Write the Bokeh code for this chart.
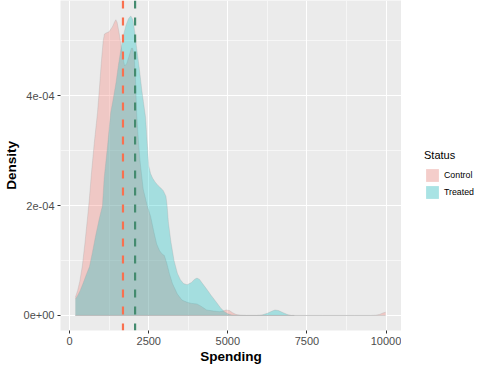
from bokeh.plotting import figure
from bokeh.layouts import row
from bokeh.models import Range1d, FixedTicker, Legend, LegendItem, ColumnDataSource, Span
from bokeh.embed import file_html
from bokeh.resources import INLINE

# ---- data ----
control_x = [180, 250, 320, 400, 480, 560, 620, 690, 780, 880, 950, 1000, 1060, 1100, 1155, 1244,
             1350, 1420, 1460, 1500, 1560, 1605, 1680, 1738, 1800, 1880, 1950, 1994, 2040, 2080,
             2117, 2170, 2222, 2324, 2450, 2560, 2650, 2750, 2840, 2920, 2994, 3070, 3148, 3250,
             3404, 3550, 3713, 3850, 4022, 4150, 4330, 4550, 4741, 4850, 4948, 5050, 5150, 5256,
             5400, 5600, 6000, 7000, 8000, 9000, 9500, 9680, 9800, 9900, 9990]
control_density = [0.33e-4, 0.45e-4, 0.62e-4, 0.9e-4, 1.3e-4, 1.75e-4, 2.1e-4, 2.6e-4, 3.15e-4,
                   3.69e-4, 4.2e-4, 4.6e-4, 5.0e-4, 5.12e-4, 5.14e-4, 5.16e-4, 5.25e-4, 5.34e-4,
                   5.38e-4, 5.33e-4, 5.15e-4, 4.98e-4, 4.7e-4, 4.54e-4, 4.58e-4, 4.72e-4, 4.86e-4,
                   4.86e-4, 4.7e-4, 4.3e-4, 3.69e-4, 3.2e-4, 2.82e-4, 2.3e-4, 2.0e-4, 1.8e-4,
                   1.55e-4, 1.3e-4, 1.18e-4, 1.12e-4, 1.09e-4, 0.95e-4, 0.77e-4, 0.58e-4, 0.39e-4,
                   0.28e-4, 0.24e-4, 0.22e-4, 0.21e-4, 0.17e-4, 0.1e-4, 0.08e-4, 0.07e-4, 0.08e-4,
                   0.1e-4, 0.09e-4, 0.05e-4, 0.02e-4, 0.005e-4, 0.0, 0.0, 0.0, 0.0, 0.0, 0.0,
                   0.005e-4, 0.02e-4, 0.045e-4, 0.06e-4]

treated_x = [180, 250, 330, 420, 530, 627, 720, 820, 935, 1037, 1090, 1200, 1296, 1380, 1460,
             1540, 1620, 1700, 1780, 1860, 1932, 2000, 2060, 2120, 2200, 2280, 2340, 2400, 2450,
             2500, 2560, 2620, 2700, 2800, 2880, 2960, 3043, 3080, 3120, 3198, 3300, 3404, 3500,
             3600, 3713, 3850, 3950, 4022, 4100, 4200, 4330, 4480, 4639, 4780, 4895, 5000, 5120,
             5300, 5600, 5900, 6080, 6250, 6400, 6490, 6600, 6750, 6900, 7006, 7100]
treated_density = [0.3e-4, 0.36e-4, 0.45e-4, 0.58e-4, 0.75e-4, 0.89e-4, 1.15e-4, 1.45e-4, 1.76e-4,
                   2.0e-4, 2.5e-4, 3.1e-4, 3.69e-4, 3.95e-4, 4.22e-4, 4.55e-4, 4.85e-4, 5.1e-4,
                   5.28e-4, 5.4e-4, 5.45e-4, 5.38e-4, 5.15e-4, 4.85e-4, 4.5e-4, 4.1e-4, 3.85e-4,
                   3.6e-4, 3.15e-4, 2.72e-4, 2.58e-4, 2.5e-4, 2.43e-4, 2.36e-4, 2.32e-4, 2.27e-4,
                   2.17e-4, 2.0e-4, 1.7e-4, 1.35e-4, 1.0e-4, 0.77e-4, 0.65e-4, 0.58e-4, 0.56e-4,
                   0.6e-4, 0.66e-4, 0.68e-4, 0.66e-4, 0.58e-4, 0.48e-4, 0.36e-4, 0.24e-4, 0.13e-4,
                   0.07e-4, 0.03e-4, 0.01e-4, 0.0, 0.0, 0.0, 0.01e-4, 0.04e-4, 0.08e-4, 0.1e-4,
                   0.09e-4, 0.05e-4, 0.015e-4, 0.0, 0.0]

groups = ["Control", "Treated"]
group_means = [1685, 2068]

x_ticks = [0, 2500, 5000, 7500, 10000]
x_minor = [1250, 3750, 6250, 8750]
y_ticks = [0.0, 0.0002, 0.0004]
y_minor = [0.0001, 0.0003, 0.0005]
y_tick_labels = ["0e+00", "2e-04", "4e-04"]

# ---- styling ----
FONT = "Liberation Sans"
fill_colors = ["#F8766D", "#00BFC4"]
key_colors = ["#F4CDCA", "#A9E3E4"]
mean_colors = ["#F9704F", "#448B6F"]

y0, y1 = -2.73e-5, 5.73e-4
p = figure(width=401, height=366, output_backend="svg", toolbar_location=None,
           x_range=Range1d(-290, 10490), y_range=Range1d(y0, y1),
           min_border_left=51, min_border_right=0, min_border_top=0, min_border_bottom=29)
p.background_fill_color = "#EBEBEB"
p.border_fill_color = "white"
p.outline_line_color = None

for xs, ds, col in [(control_x, control_density, fill_colors[0]),
                    (treated_x, treated_density, fill_colors[1])]:
    src = ColumnDataSource(dict(x=xs, y=ds))
    p.varea(x="x", y1=0, y2="y", source=src, fill_color=col, fill_alpha=0.3)
    p.line(x="x", y="y", source=src, line_color="#A0A0A0", line_alpha=0.35, line_width=0.8)
# baselines
for xs in [control_x, treated_x]:
    p.line(x=[xs[0], xs[-1]], y=[0, 0], line_color="#B8B8B8", line_alpha=0.6, line_width=1)

for m, c in zip(group_means, mean_colors):
    p.add_layout(Span(location=m, dimension="height", line_color=c, line_width=2.2,
                      line_dash="8 9"))

# axes
for ax in [p.xaxis[0], p.yaxis[0]]:
    ax.axis_line_color = None
    ax.major_tick_line_color = "#333333"
    ax.major_tick_out = 3
    ax.major_tick_in = 0
    ax.minor_tick_line_color = None
    ax.major_label_text_font = FONT
    ax.major_label_text_font_size = "11px"
    ax.major_label_text_color = "#4D4D4D"
    ax.axis_label_text_font = FONT
    ax.axis_label_text_font_size = "13.5px"
    ax.axis_label_text_font_style = "bold"
    ax.axis_label_text_color = "black"

p.xaxis.ticker = FixedTicker(ticks=x_ticks, minor_ticks=x_minor)
p.yaxis.ticker = FixedTicker(ticks=y_ticks, minor_ticks=y_minor)
p.yaxis.major_label_overrides = {t: l for t, l in zip(y_ticks, y_tick_labels)}
p.xaxis.axis_label = "Spending"
p.yaxis.axis_label = "Density"
p.xaxis.major_label_standoff = 2
p.yaxis.major_label_standoff = 2
p.xaxis.axis_label_standoff = 1
p.yaxis.axis_label_standoff = 2

p.xgrid.grid_line_color = "white"
p.ygrid.grid_line_color = "white"
p.xgrid.grid_line_width = 1.1
p.ygrid.grid_line_width = 1.1
p.xgrid.minor_grid_line_color = "white"
p.ygrid.minor_grid_line_color = "white"
p.xgrid.minor_grid_line_width = 0.55
p.ygrid.minor_grid_line_width = 0.55

# ---- legend panel (separate small figure to the right) ----
lf = figure(width=73, height=366, output_backend="svg", toolbar_location=None,
            x_range=Range1d(0, 1), y_range=Range1d(0, 1),
            x_axis_location=None, y_axis_location=None, min_border=0)
lf.grid.visible = False
lf.outline_line_color = None
lf.background_fill_color = "white"
items = []
for g, kc in zip(groups, key_colors):
    # legend key swatches only; the quads lie outside the visible range
    d = lf.quad(left=[5], right=[6], bottom=[5], top=[6], fill_color=kc, fill_alpha=1,
                line_color=None)
    items.append(LegendItem(label=g, renderers=[d]))
legend = Legend(items=items, title="Status", location=(23, 130))
legend.title_text_font = FONT
legend.title_text_font_size = "11px"
legend.title_text_font_style = "normal"
legend.title_text_color = "black"
legend.title_standoff = 6
legend.label_text_font = FONT
legend.label_text_font_size = "8.8px"
legend.label_text_color = "black"
legend.glyph_width = 16
legend.glyph_height = 16
legend.label_height = 16
legend.label_standoff = 4
legend.spacing = 1
legend.padding = 0
legend.margin = 0
legend.border_line_color = None
legend.background_fill_alpha = 0
lf.add_layout(legend)

layout = row(p, lf, spacing=0)
open("out.html", "w").write(file_html(layout, INLINE))
